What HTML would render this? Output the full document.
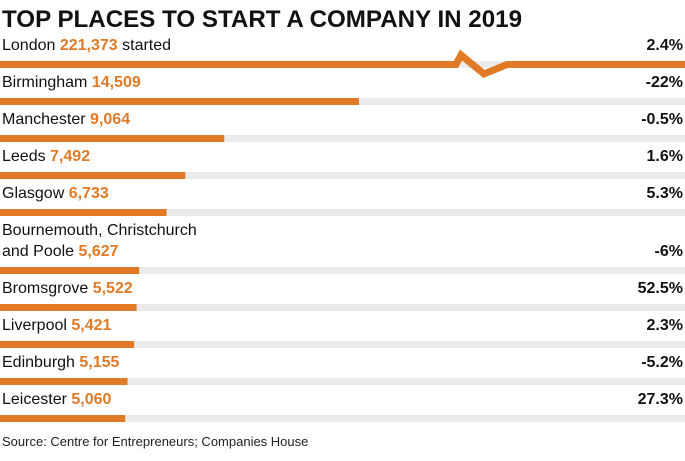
<!DOCTYPE html>
<html><head><meta charset="utf-8"><style>
body{margin:0;background:#fff;width:685px;height:456px;overflow:hidden;font-family:"Liberation Sans",sans-serif;}
</style></head><body>
<svg width="685" height="456">
<text x="2" y="27" font-size="24" font-weight="bold" fill="#111" textLength="520" lengthAdjust="spacingAndGlyphs">TOP PLACES TO START A COMPANY IN 2019</text>
<g id="rows"></g>
<text x="2" y="446" font-size="13" fill="#222">Source: Centre for Entrepreneurs; Companies House</text>
</svg>
<script>
const places=["London","Birmingham","Manchester","Leeds","Glasgow","Bournemouth, Christchurch|and Poole","Bromsgrove","Liverpool","Edinburgh","Leicester"];
const counts=[221373,14509,9064,7492,6733,5627,5522,5421,5155,5060];
const changes=["2.4%","-22%","-0.5%","1.6%","5.3%","-6%","52.5%","2.3%","-5.2%","27.3%"];
const ORANGE="#e07a26",NS="http://www.w3.org/2000/svg";
const x=v=>v*0.02474;
const g=document.getElementById("rows");
function el(t,a){const e=document.createElementNS(NS,t);for(const k in a)e.setAttribute(k,a[k]);g.appendChild(e);return e;}
let y=50;
places.forEach((p,i)=>{
  const lines=p.split("|");
  const extra=(lines.length-1)*21;
  const last=lines[lines.length-1];
  lines.slice(0,-1).forEach((l,j)=>{const t=el("text",{x:2,y:y+j*21,"font-size":16,fill:"#111"});t.textContent=l;
    
    });
  const t=el("text",{x:2,y:y+extra,"font-size":16,fill:"#111"});
  
  
  t.innerHTML=last+' <tspan font-weight="bold" fill="'+ORANGE+'">'+counts[i].toLocaleString("en-GB")+'</tspan>'+(i===0?' started':'');
  const c=el("text",{x:683,y:y+extra,"font-size":16,"font-weight":"bold",fill:"#111","text-anchor":"end"});
  c.textContent=changes[i];
  
  
  const by=y+extra+11;
  const tr=el("rect",{x:0,y:by,width:685,height:7,fill:"#ebebeb"});
  
  
  if(x(counts[i])>685){
    const pl=el("polyline",{points:`0,${by+3.5} 456,${by+3.5} 461,${by-6} 484,${by+13} 507,${by+3.5} 685,${by+3.5}`,fill:"none",stroke:ORANGE,"stroke-width":7});
    
    
  } else {
    const b=el("rect",{x:0,y:by,width:x(counts[i]),height:7,fill:ORANGE});
    
    
  }
  y+=37+extra;
});
</script>
</body></html>
